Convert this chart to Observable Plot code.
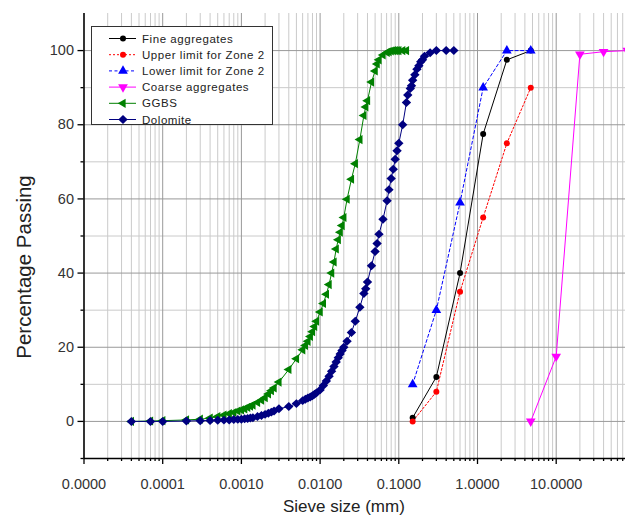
<!DOCTYPE html>
<html>
<head>
<meta charset="utf-8">
<script src="https://cdn.jsdelivr.net/npm/d3@7"></script>
<script src="https://cdn.jsdelivr.net/npm/@observablehq/plot@0.6"></script>
<style>
  html, body { margin: 0; padding: 0; background: #fff; overflow: hidden; }
  #wrap { position: relative; width: 625px; height: 520px; font-family: "Liberation Sans", Arial, sans-serif; }
  .ttl { position: absolute; color: #222; font-size: 17px; white-space: nowrap; }
  #legend { position: absolute; left: 91px; top: 26px; width: 182px; height: 99px; border: 1px solid #333; background: #fff; box-sizing: border-box; }
  #legend svg { position: absolute; left: 0; top: 0; }
</style>
</head>
<body>
<div id="wrap"></div>
<script>
// ---------------- data ----------------
const fineSizes = [0.15, 0.3, 0.6, 1.18, 2.36, 4.75];
const finePass  = [1, 12, 40, 77.5, 97.5, 100];

const upperSizes = [0.15, 0.3, 0.6, 1.18, 2.36, 4.75];
const upperPass  = [0, 8, 35, 55, 75, 90];

const lowerSizes = [0.15, 0.3, 0.6, 1.18, 2.36, 4.75];
const lowerPass  = [10, 30, 59, 90, 100, 100];

const coarseSizes = [4.75, 10, 20, 40, 80];
const coarsePass  = [0, 17.5, 99, 99.7, 100];

const ggbsSizes = [0.00004, 0.00007, 0.0001, 0.0002, 0.0003, 0.0004, 0.0005, 0.0006, 0.0007, 0.0008, 0.0009,
  0.001, 0.0011, 0.0012, 0.0013, 0.0014, 0.0016, 0.0018, 0.002, 0.0022, 0.0024, 0.0026, 0.003, 0.004, 0.005,
  0.006, 0.0065, 0.007, 0.0075, 0.008, 0.0085, 0.009, 0.01, 0.011, 0.012, 0.013, 0.014, 0.015, 0.016, 0.017,
  0.018, 0.019, 0.02, 0.022, 0.025, 0.028, 0.032, 0.036, 0.038, 0.04, 0.045, 0.05, 0.053, 0.056, 0.063, 0.071,
  0.075, 0.08, 0.085, 0.09, 0.095, 0.1, 0.112, 0.125];
const ggbsPass = [0, 0.1, 0.2, 0.4, 0.6, 0.9, 1.3, 1.7, 2.1, 2.4, 2.8,
  3.1, 3.4, 3.8, 4.1, 4.4, 5.1, 5.7, 6.4, 7.4, 8.3, 9.0, 10.6, 14.0, 16.9,
  19.3, 20.5, 21.6, 22.9, 24.2, 25.6, 27.0, 29.5, 31.8, 34.3, 36.9, 40.0, 43.0, 46.5, 49.0,
  51.0, 52.8, 55.0, 59.9, 65.3, 69.5, 76.0, 82.5, 84.8, 86.5, 91.5, 94.5, 96.4, 97.5, 98.8, 99.5,
  99.7, 99.9, 100, 100, 100, 100, 100, 100];

const dolomiteSizes = [0.00004, 0.00007, 0.0001, 0.0002, 0.0003, 0.0004, 0.0005, 0.0006, 0.0007, 0.0008, 0.0009,
  0.001, 0.0011, 0.0012, 0.0013, 0.0014, 0.0016, 0.0018, 0.002, 0.0022, 0.0024, 0.0026, 0.003, 0.004, 0.005,
  0.006, 0.0065, 0.007, 0.0075, 0.008, 0.0085, 0.009, 0.01, 0.011, 0.012, 0.013, 0.014, 0.015, 0.016, 0.017,
  0.018, 0.019, 0.02, 0.022, 0.025, 0.028, 0.032, 0.036, 0.038, 0.04, 0.045, 0.05, 0.053, 0.056, 0.063, 0.071,
  0.075, 0.08, 0.085, 0.09, 0.095, 0.1, 0.112, 0.125, 0.13, 0.14, 0.145, 0.15, 0.16, 0.17, 0.18, 0.19, 0.2,
  0.212, 0.25, 0.3, 0.4, 0.5];
const dolomitePass = [0, 0, 0, 0.1, 0.2, 0.25, 0.3, 0.35, 0.4, 0.5, 0.55,
  0.6, 0.7, 0.8, 0.9, 1.0, 1.3, 1.6, 1.9, 2.2, 2.5, 2.8, 3.4, 4.0, 4.8,
  5.6, 6.0, 6.3, 6.6, 6.9, 7.3, 7.7, 8.5, 9.7, 10.9, 12.2, 13.5, 14.8, 16.0, 17.2,
  18.2, 19.1, 20.0, 21.6, 24.0, 27.0, 30.8, 34.5, 35.8, 37.6, 42.0, 45.8, 48.0, 50.5, 54.5, 59.5,
  62.5, 65.5, 68.0, 70.7, 73.0, 75.0, 80.0, 86.0, 88.0, 89.8, 90.5, 92.0, 93.5, 95.0, 95.9, 97.0, 97.5,
  98.5, 99.4, 100, 100, 100];

const xMajorTicks = [0.00001, 0.0001, 0.001, 0.01, 0.1, 1, 10];
const xTickLabels = ["0.0000", "0.0001", "0.0010", "0.0100", "0.1000", "1.0000", "10.0000"];
const yMajorTicks = [0, 20, 40, 60, 80, 100];
const yMinorTicks = [-10, 10, 30, 50, 70, 90];

const seriesNames = ["Fine aggregates", "Upper limit for Zone 2", "Lower limit for Zone 2",
  "Coarse aggregates", "GGBS", "Dolomite"];

// ---------------- symbols ----------------
const triDown = {draw(c, size) {
  const y = -Math.sqrt(size / (Math.sqrt(3) * 3));
  c.moveTo(0, -y * 2); c.lineTo(-Math.sqrt(3) * y, y); c.lineTo(Math.sqrt(3) * y, y); c.closePath();
}};
const triLeft = {draw(c, size) {
  const y = -Math.sqrt(size / (Math.sqrt(3) * 3));
  c.moveTo(y * 2, 0); c.lineTo(-y, -Math.sqrt(3) * y); c.lineTo(-y, Math.sqrt(3) * y); c.closePath();
}};
const rhombus = {draw(c, size) {
  const a = Math.sqrt(size / 2) * 1.05;
  c.moveTo(0, -a); c.lineTo(a * 1.05, 0); c.lineTo(0, a); c.lineTo(-a * 1.05, 0); c.closePath();
}};

const zip = (xs, ys) => xs.map((x, i) => ({x, y: ys[i]}));

const series = [
  {name: seriesNames[0], data: zip(fineSizes, finePass), color: "#000000", symbol: "circle", r: 3, dash: null},
  {name: seriesNames[1], data: zip(upperSizes, upperPass), color: "#ff0000", symbol: "circle", r: 3, dash: "2,2"},
  {name: seriesNames[2], data: zip(lowerSizes, lowerPass), color: "#0000ff", symbol: "triangle", r: 3.6, dash: "3,2.5"},
  {name: seriesNames[3], data: zip(coarseSizes, coarsePass), color: "#ff00ff", symbol: triDown, r: 3.6, dash: null},
  {name: seriesNames[4], data: zip(ggbsSizes, ggbsPass), color: "#008000", symbol: triLeft, r: 3.4, dash: null},
  {name: seriesNames[5], data: zip(dolomiteSizes, dolomitePass), color: "#000080", symbol: rhombus, r: 3.4, dash: null}
];

// ---------------- layout ----------------
const W = 625, H = 520;
const mLeft = 83.5, mTop = 13, mRight = 0, mBottom = 62;
const pxPerDecade = 78.7;
const xMax = Math.pow(10, -5 + (W - mLeft - mRight) / pxPerDecade);

const xMinorTicks = [];
for (let e = -5; e <= 1; e++) for (let k = 2; k <= 9; k++) {
  const v = k * Math.pow(10, e);
  if (v <= xMax) xMinorTicks.push(v);
}

const marks = [
  Plot.gridX(xMinorTicks, {stroke: "#cacaca", strokeOpacity: 1, strokeWidth: 1}),
  Plot.gridY(yMinorTicks.filter(d => d > -10), {stroke: "#cacaca", strokeOpacity: 1, strokeWidth: 1}),
  Plot.gridX(xMajorTicks.slice(1), {stroke: "#999999", strokeOpacity: 1, strokeWidth: 1}),
  Plot.gridY(yMajorTicks, {stroke: "#999999", strokeOpacity: 1, strokeWidth: 1}),
  Plot.axisX(xMinorTicks, {tickSize: 3, tickFormat: () => "", stroke: "#000", strokeWidth: 1.3}),
  Plot.axisX(xMajorTicks, {tickSize: 6, tickPadding: 14, tickFormat: (d) => xTickLabels[xMajorTicks.indexOf(d)], stroke: "#000", strokeWidth: 1.3, fill: "#333", fontSize: 14.5}),
  Plot.axisY(yMinorTicks, {tickSize: 3, tickFormat: () => "", stroke: "#000", strokeWidth: 1.3}),
  Plot.axisY(yMajorTicks, {tickSize: 6, tickPadding: 4, stroke: "#000", strokeWidth: 1.3, fill: "#333", fontSize: 14.5}),
  Plot.ruleY([-10], {stroke: "#000", strokeWidth: 1.6}),
  Plot.ruleX([0.00001], {stroke: "#000", strokeWidth: 1.6})
];

for (const s of series) {
  marks.push(Plot.line(s.data, {x: "x", y: "y", stroke: s.color, strokeWidth: 1, strokeDasharray: s.dash, clip: true}));
}
for (const s of series) {
  marks.push(Plot.dot(s.data, {x: "x", y: "y", fill: s.color, stroke: "none", symbol: s.symbol, r: s.r, clip: true}));
}

const chart = Plot.plot({
  width: W, height: H,
  marginLeft: mLeft, marginTop: mTop, marginRight: mRight, marginBottom: mBottom,
  style: {fontFamily: "'Liberation Sans', Arial, sans-serif", fontSize: "14.5px", background: "#fff", overflow: "hidden"},
  x: {type: "log", domain: [0.00001, xMax], label: null},
  y: {domain: [-10, 110], label: null},
  marks
});

const wrap = document.getElementById("wrap");
wrap.appendChild(chart);

// axis titles
const xt = document.createElement("div");
xt.className = "ttl"; xt.textContent = "Sieve size (mm)";
xt.style.left = "283px"; xt.style.top = "497px";
wrap.appendChild(xt);
const yt = document.createElement("div");
yt.className = "ttl"; yt.textContent = "Percentage Passing";
yt.style.fontSize = "20.5px";
yt.style.left = "24px"; yt.style.top = "267px";
yt.style.transform = "translate(-50%, -50%) rotate(-90deg)";
wrap.appendChild(yt);

// legend
const lg = document.createElement("div");
lg.id = "legend";
wrap.appendChild(lg);
const ls = d3.select(lg).append("svg").attr("width", 182).attr("height", 99);
series.forEach((s, i) => {
  const cy = 11.5 + i * 16.2;
  const g = ls.append("g").attr("transform", `translate(0,${cy})`);
  g.append("line").attr("x1", 17).attr("x2", 44).attr("y1", 0).attr("y2", 0)
    .attr("stroke", s.color).attr("stroke-width", 1).attr("stroke-dasharray", s.dash);
  const sym = typeof s.symbol === "string"
    ? ({circle: d3.symbolCircle, triangle: d3.symbolTriangle})[s.symbol]
    : s.symbol;
  g.append("path").attr("transform", "translate(31,0)")
    .attr("d", d3.symbol(sym, Math.PI * s.r * s.r)()).attr("fill", s.color);
  g.append("text").attr("x", 50).attr("y", 0).attr("dy", "0.35em")
    .attr("font-family", "'Liberation Sans', Arial, sans-serif").attr("font-size", 11.5)
    .attr("letter-spacing", 0.55).attr("fill", "#222").text(s.name);
});
</script>
</body>
</html>
